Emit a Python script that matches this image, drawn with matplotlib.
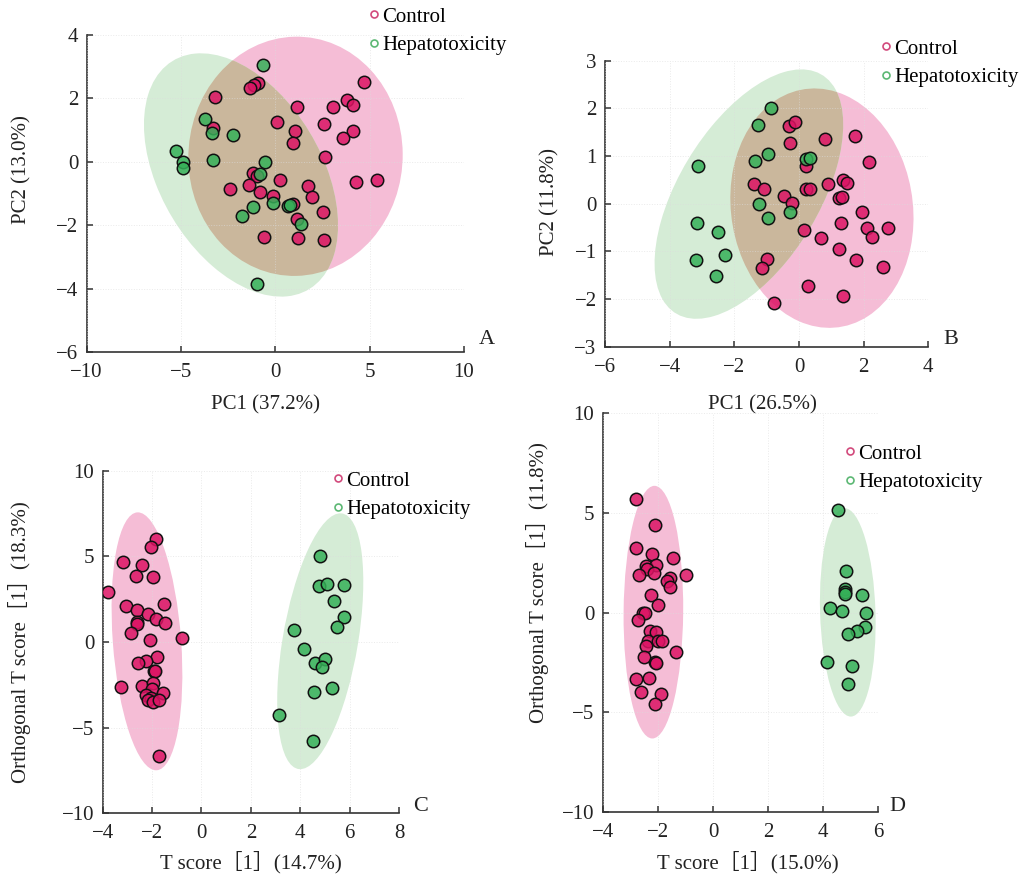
import numpy as np
import matplotlib
matplotlib.use('Agg')
import matplotlib.pyplot as plt
from matplotlib.patches import Ellipse
from matplotlib.lines import Line2D
from matplotlib.colors import to_rgba

plt.rcParams['font.family'] = ['Liberation Serif', 'Noto Sans CJK SC']
plt.rcParams['axes.unicode_minus'] = True

# ---- scores ----
# A: PCA
a_ctrl_x = [4.72, 3.78, 4.13, 3.04, 1.17, 0.11, 2.56, 1.02, 4.10, 3.59, 0.95, 2.65, 4.26, 5.39,
            -3.18, -0.94, -1.11, -1.36, -3.32, -1.20, -0.97, -1.41, -2.42, -0.83, 0.23, -0.12,
            1.75, 1.94, 0.94, 2.53, 1.15, -0.58, 1.20, 2.58]
a_ctrl_y = [2.53, 1.95, 1.80, 1.73, 1.72, 1.25, 1.19, 0.97, 0.96, 0.74, 0.58, 0.14, -0.64, -0.56,
            2.05, 2.48, 2.41, 2.33, 1.08, -0.36, -0.45, -0.74, -0.86, -0.94, -0.56, -1.07,
            -0.76, -1.11, -1.33, -1.57, -1.80, -2.38, -2.40, -2.48]
a_hep_x = [-0.67, -3.75, -3.34, -2.26, -5.27, -4.91, -4.91, -3.30, -0.55, -0.80, -0.11, 0.69,
           0.78, -1.20, -1.78, 1.36, -0.95]
a_hep_y = [3.04, 1.36, 0.91, 0.86, 0.33, 0.00, -0.19, 0.07, -0.02, -0.39, -1.31, -1.38,
           -1.36, -1.43, -1.72, -1.96, -3.87]

# B: PCA
b_ctrl_x = [-0.30, -0.11, -0.27, 0.80, 1.73, 2.16, 0.21, -1.39, -1.09, -0.46, -0.22, 0.21, 0.33,
            0.89, 1.37, 1.47, 1.24, 1.34, 1.96, 1.31, 0.14, 0.67, 2.10, 2.26, 2.74, 1.24, 1.76,
            2.61, -1.00, -1.14, 0.27, 1.35, -0.76]
b_ctrl_y = [1.63, 1.71, 1.28, 1.36, 1.43, 0.87, 0.80, 0.41, 0.31, 0.17, 0.02, 0.31, 0.31,
            0.41, 0.50, 0.44, 0.12, 0.14, -0.18, -0.41, -0.55, -0.73, -0.52, -0.69, -0.52, -0.96, -1.18,
            -1.32, -1.15, -1.34, -1.72, -1.94, -2.09]
b_hep_x = [-0.88, -1.27, -0.95, -1.37, -3.13, 0.22, 0.33, -1.24, -0.29, -0.95, -3.15, -2.49,
           -2.30, -3.19, -2.58]
b_hep_y = [2.01, 1.66, 1.04, 0.90, 0.79, 0.94, 0.95, -0.01, -0.17, -0.31, -0.41, -0.60,
           -1.07, -1.18, -1.52]

# C: OPLS-DA
c_ctrl_x = [-1.84, -2.06, -3.16, -2.40, -2.66, -1.98, -3.78, -3.07, -2.61, -1.52, -2.15, -1.86,
            -1.48, -2.60, -2.61, -2.84, -2.10, -0.79, -1.80, -2.26, -2.56, -1.94, -1.88, -3.26,
            -2.42, -1.98, -2.01, -1.56, -2.23, -2.06, -2.18, -1.97, -1.72, -1.70]
c_ctrl_y = [5.99, 5.53, 4.65, 4.49, 3.85, 3.79, 2.94, 2.10, 1.89, 2.20, 1.63, 1.36,
            1.09, 1.19, 1.07, 0.53, 0.10, 0.23, -0.88, -1.13, -1.25, -1.71, -1.69, -2.65,
            -2.59, -2.39, -2.74, -2.98, -3.09, -3.27, -3.40, -3.48, -3.40, -6.63]
c_hep_x = [4.80, 4.76, 5.09, 5.79, 5.36, 5.79, 5.48, 3.76, 4.16, 4.60, 5.01, 4.89, 4.56, 5.29,
           3.12, 4.51]
c_hep_y = [5.02, 3.27, 3.37, 3.35, 2.39, 1.44, 0.88, 0.68, -0.39, -1.21, -0.99, -1.46, -2.90,
           -2.68, -4.26, -5.80]

# D: OPLS-DA
d_ctrl_x = [-2.79, -2.12, -2.79, -2.22, -1.45, -2.42, -2.06, -2.39, -2.14, -2.67, -1.57, -1.67,
            -1.56, -0.96, -2.26, -2.00, -2.54, -2.45, -2.72, -2.30, -2.08, -2.35, -2.42, -1.98,
            -1.85, -1.33, -2.09, -2.08, -2.50, -2.79, -2.31, -2.61, -1.87, -2.12]
d_ctrl_y = [5.69, 4.41, 3.24, 2.94, 2.76, 2.34, 2.39, 2.17, 2.01, 1.91, 1.74, 1.61,
            1.30, 1.87, 0.87, 0.37, -0.02, -0.03, -0.37, -0.90, -0.99, -1.42, -1.66, -1.42,
            -1.42, -1.99, -2.47, -2.54, -2.21, -3.34, -3.29, -3.96, -4.08, -4.58]
d_hep_x = [4.53, 4.81, 4.80, 4.80, 4.80, 5.42, 4.26, 4.69, 5.56, 5.51, 5.22, 4.91, 4.15, 5.03, 4.90]
d_hep_y = [5.15, 2.11, 1.19, 1.05, 0.94, 0.89, 0.22, 0.08, 0.00, -0.70, -0.92, -1.07, -2.47,
           -2.68, -3.58]

groups = ['Control', 'Hepatotoxicity']

W, H = 1022, 880
PINK_FILL = '#f5bdd6'
GREEN_FILL = '#d5ecd6'
MIX_FILL = '#cab79c'
RED = '#dc1464'
GREEN = '#35b058'
K95 = 2.448


def px_box(l, r, t, b):
    return [l / W, 1 - b / H, (r - l) / W, (b - t) / H]


def conf_ellipse(x, y, color):
    x = np.asarray(x)
    y = np.asarray(y)
    cov = np.cov(x, y)
    vals, vecs = np.linalg.eigh(cov)
    order = vals.argsort()[::-1]
    vals, vecs = vals[order], vecs[:, order]
    ang = np.degrees(np.arctan2(vecs[1, 0], vecs[0, 0]))
    return Ellipse((x.mean(), y.mean()), 2 * K95 * np.sqrt(vals[0]), 2 * K95 * np.sqrt(vals[1]),
                   angle=ang, facecolor=color, edgecolor='none', zorder=1)


def panel(box, cx, cy, hx, hy, xlim, ylim, xticks, yticks):
    ax = fig.add_axes(px_box(*box))
    e1 = conf_ellipse(cx, cy, PINK_FILL)
    e2 = conf_ellipse(hx, hy, GREEN_FILL)
    ax.add_patch(e1)
    ax.add_patch(e2)
    mix = conf_ellipse(hx, hy, MIX_FILL)
    ax.add_patch(mix)
    mix.set_clip_path(e1)
    ax.scatter(cx, cy, s=80, color=to_rgba(RED, 0.85), edgecolors='#111111', linewidths=1.1, zorder=3)
    ax.scatter(hx, hy, s=80, color=to_rgba(GREEN, 0.85), edgecolors='#111111', linewidths=1.1, zorder=3)
    ax.set_xlim(*xlim)
    ax.set_ylim(*ylim)
    ax.set_xticks(xticks)
    ax.set_yticks(yticks)
    for s in ['top', 'right']:
        ax.spines[s].set_visible(False)
    for s in ['left', 'bottom']:
        ax.spines[s].set_color('#333333')
        ax.spines[s].set_linewidth(1.2)
    ax.tick_params(direction='in', length=4, width=1.1, color='#333333', labelsize=15,
                   labelcolor='#222222')
    ax.tick_params(axis='x', pad=8)
    ax.tick_params(axis='y', pad=6)
    ax.grid(True, color='#dcdcdc', linestyle=':', linewidth=0.7, alpha=0.6)
    ax.set_axisbelow(False)
    for gl in ax.get_xgridlines() + ax.get_ygridlines():
        gl.set_zorder(2)
    return ax


def legend(ax, x, y):
    hs = [Line2D([], [], marker='o', ls='none', mfc='white', mec=c, ms=5, mew=1.2)
          for c in ['#d24a7c', '#5cb874']]
    ax.legend(hs, groups, loc='upper left', bbox_to_anchor=(x / W, 1 - y / H),
              bbox_transform=fig.transFigure, frameon=False, fontsize=15, borderpad=0,
              handlelength=0.5, handletextpad=0.15, labelspacing=0.42, borderaxespad=0)


def label(x, y, s, size=15, **kw):
    fig.text(x / W, 1 - y / H, s, ha='center', va='center', fontsize=size, color='#222222', **kw)


fig = plt.figure(figsize=(W / 100, H / 100), dpi=100)

axA = panel((86.7, 464, 35, 352), a_ctrl_x, a_ctrl_y, a_hep_x, a_hep_y,
            (-10, 10), (-6, 4), [-10, -5, 0, 5, 10], [-6, -4, -2, 0, 2, 4])
legend(axA, 369, 7)
label(265, 405, 'PC1 (37.2%)')
label(22, 170, 'PC2 (13.0%)', rotation=90)
label(487, 340, 'A', size=16)

axB = panel((605, 928.3, 60.7, 346.7), b_ctrl_x, b_ctrl_y, b_hep_x, b_hep_y,
            (-6, 4), (-3, 3), [-6, -4, -2, 0, 2, 4], [-3, -2, -1, 0, 1, 2, 3])
legend(axB, 881, 39)
label(762, 405, 'PC1 (26.5%)')
label(550, 202, 'PC2 (11.8%)', rotation=90)
label(951, 340, 'B', size=16)

axC = panel((102.7, 399, 470.7, 813.3), c_ctrl_x, c_ctrl_y, c_hep_x, c_hep_y,
            (-4, 8), (-10, 10), [-4, -2, 0, 2, 4, 6, 8], [-10, -5, 0, 5, 10])
legend(axC, 333, 471)
label(251, 862, 'T score［1］(14.7%)')
label(20, 642, 'Orthogonal T score［1］(18.3%)', rotation=90)
label(421, 806, 'C', size=16)

axD = panel((602.7, 878.3, 413.4, 812), d_ctrl_x, d_ctrl_y, d_hep_x, d_hep_y,
            (-4, 6), (-10, 10), [-4, -2, 0, 2, 4, 6], [-10, -5, 0, 5, 10])
legend(axD, 845, 444)
label(748, 862, 'T score［1］(15.0%)')
label(537, 583, 'Orthogonal T score［1］(11.8%)', rotation=90)
label(897, 806, 'D', size=16)

fig.savefig('out.png', dpi=100)
